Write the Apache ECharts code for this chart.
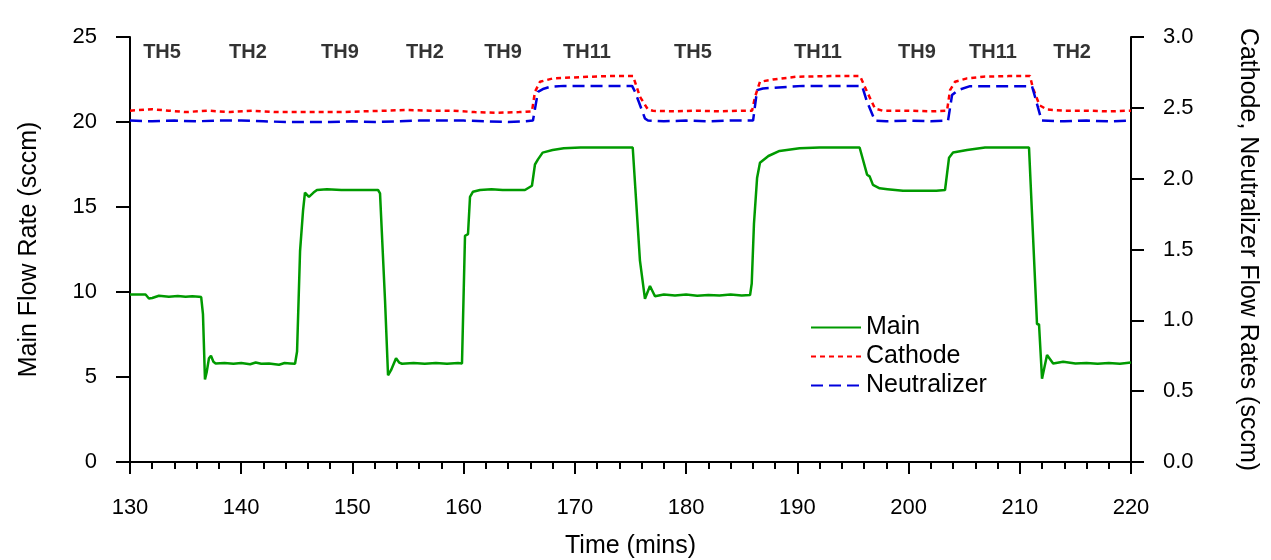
<!DOCTYPE html>
<html>
<head>
<meta charset="utf-8">
<script src="https://cdn.jsdelivr.net/npm/echarts@6/dist/echarts.min.js"></script>
<style>
html, body { margin: 0; padding: 0; background: #fff; }
#chart { width: 1271px; height: 560px; }
</style>
</head>
<body>
<div id="chart"></div>
<script>
// main flow (left axis, sccm)
const mainTime = [130.0, 131.0, 131.4, 131.7, 132.0, 132.6, 133.5, 134.3, 135.0, 135.6, 136.2, 136.4, 136.56, 136.74, 136.9, 137.1, 137.28, 137.5, 137.7, 138.5, 139.3, 140.0, 140.8, 141.3, 141.8, 142.5, 143.4, 143.9, 144.4, 144.84, 145.02, 145.29, 145.56, 145.73, 146.09, 146.5, 146.81, 147.71, 149.0, 150.5, 151.5, 152.3, 152.48, 152.93, 153.2, 153.47, 153.92, 154.2, 154.46, 155.5, 156.5, 157.5, 158.5, 159.5, 159.85, 160.12, 160.39, 160.57, 160.84, 161.47, 162.5, 163.5, 164.5, 165.2, 165.51, 166.14, 166.41, 166.68, 167.1, 168.0, 169.0, 170.5, 172.0, 173.5, 175.2, 175.85, 176.0, 176.3, 176.75, 177.2, 178.0, 179.0, 180.0, 181.0, 182.0, 183.0, 184.0, 185.0, 185.75, 185.9, 186.1, 186.38, 186.64, 187.4, 188.4, 190.2, 192.0, 194.0, 195.6, 196.27, 196.5, 196.8, 197.4, 198.1, 199.5, 201.0, 202.5, 203.28, 203.64, 204.0, 205.26, 206.88, 208.5, 210.0, 210.83, 211.55, 211.73, 212.0, 212.45, 213.0, 213.9, 215.0, 216.0, 217.0, 218.0, 219.0, 220.0];
const mainFlow = [9.85, 9.85, 9.85, 9.62, 9.65, 9.78, 9.72, 9.76, 9.72, 9.75, 9.72, 9.7, 8.7, 4.85, 5.3, 6.1, 6.25, 5.9, 5.8, 5.82, 5.78, 5.82, 5.75, 5.85, 5.78, 5.8, 5.72, 5.82, 5.8, 5.78, 6.5, 12.4, 14.8, 15.85, 15.6, 15.85, 16.0, 16.05, 16.0, 16.0, 16.0, 16.0, 15.8, 9.5, 5.1, 5.4, 6.1, 5.85, 5.78, 5.82, 5.78, 5.82, 5.78, 5.82, 5.8, 13.3, 13.4, 15.6, 15.9, 16.0, 16.05, 16.0, 16.0, 16.0, 16.0, 16.25, 17.5, 17.8, 18.2, 18.35, 18.45, 18.5, 18.5, 18.5, 18.5, 11.85, 11.8, 9.6, 10.35, 9.75, 9.85, 9.8, 9.85, 9.78, 9.82, 9.8, 9.85, 9.8, 9.82, 10.5, 14.0, 16.7, 17.6, 18.0, 18.3, 18.45, 18.5, 18.5, 18.5, 16.9, 16.8, 16.3, 16.1, 16.05, 15.95, 15.95, 15.95, 16.0, 17.9, 18.2, 18.35, 18.5, 18.5, 18.5, 18.5, 8.1, 8.1, 4.9, 6.3, 5.8, 5.9, 5.8, 5.82, 5.78, 5.82, 5.78, 5.85];

// cathode flow (right axis, sccm)
const cathTime = [130, 132, 133.5, 135, 137, 139, 141, 143, 145, 147, 149, 151, 153, 155, 157, 159, 161, 163, 165, 166.14, 166.41, 166.86, 168.03, 171.09, 173, 175.23, 175.85, 176.57, 177.02, 179, 181, 183, 185, 185.93, 186.2, 186.64, 187.81, 189.97, 193, 195.64, 196.27, 196.98, 197.7, 200, 202, 203.46, 203.73, 204.18, 205.26, 206.7, 209, 210.92, 211.19, 211.78, 212.45, 214, 216, 218, 220];
const cathFlow = [2.48, 2.49, 2.48, 2.47, 2.48, 2.47, 2.48, 2.47, 2.47, 2.47, 2.47, 2.475, 2.48, 2.485, 2.48, 2.48, 2.47, 2.465, 2.47, 2.475, 2.613, 2.684, 2.708, 2.719, 2.724, 2.724, 2.578, 2.488, 2.479, 2.475, 2.48, 2.475, 2.48, 2.48, 2.578, 2.684, 2.7, 2.72, 2.724, 2.724, 2.613, 2.495, 2.479, 2.48, 2.475, 2.48, 2.625, 2.684, 2.708, 2.72, 2.724, 2.724, 2.637, 2.518, 2.488, 2.48, 2.48, 2.475, 2.48];

// neutralizer flow (right axis, sccm)
const neutTime = [130, 132, 134, 136, 138, 140, 142, 144, 146, 148, 150, 152, 154, 156, 158, 160, 162, 164, 165.5, 166.23, 166.68, 167.2, 167.76, 169, 175.14, 175.41, 176.3, 176.57, 178, 180, 182, 184, 186.02, 186.38, 186.91, 190.51, 195.82, 196.27, 196.98, 198, 200, 202, 203.55, 203.91, 204.45, 205.53, 211.1, 211.37, 211.96, 214, 216, 218, 220];
const neutFlow = [2.41, 2.405, 2.41, 2.405, 2.41, 2.41, 2.405, 2.4, 2.4, 2.4, 2.405, 2.4, 2.405, 2.41, 2.41, 2.41, 2.405, 2.4, 2.405, 2.41, 2.613, 2.635, 2.648, 2.655, 2.655, 2.613, 2.425, 2.41, 2.405, 2.41, 2.405, 2.41, 2.41, 2.625, 2.637, 2.655, 2.655, 2.542, 2.41, 2.405, 2.41, 2.405, 2.41, 2.59, 2.625, 2.653, 2.653, 2.578, 2.41, 2.405, 2.41, 2.405, 2.41];

// thruster throttle points written over the top of the plot
const phaseNames = ['TH5', 'TH2', 'TH9', 'TH2', 'TH9', 'TH11', 'TH5', 'TH11', 'TH9', 'TH11', 'TH2'];
const phaseMid = [132.88, 140.61, 148.88, 156.52, 163.54, 171.09, 180.62, 191.86, 200.76, 207.59, 214.70];

const xTicks = [130, 220, 10];
const leftTicks = [0, 25, 5];
const rightTicks = [0, 3, 0.5];

const pair = (xs, ys) => xs.map((x, i) => [x, ys[i]]);

const font = 'Liberation Sans, Arial, sans-serif';
const black = '#000';

let chart = echarts.init(document.getElementById('chart'));

let option = {
	animation: false,
	backgroundColor: '#fff',
	grid: { left: 130, right: 140, top: 37, bottom: 98, outerBoundsMode: 'none' },
	legend: {
		data: ['Main', 'Cathode', 'Neutralizer'],
		orient: 'vertical',
		left: 805,
		top: 310,
		itemWidth: 50,
		itemHeight: 14,
		itemGap: 4,
		itemStyle: { opacity: 0 },
		textStyle: { fontFamily: font, fontSize: 25, color: black }
	},
	xAxis: {
		type: 'value',
		min: xTicks[0],
		max: xTicks[1],
		interval: xTicks[2],
		name: 'Time (mins)',
		nameLocation: 'middle',
		nameGap: 72,
		nameTextStyle: { fontFamily: font, fontSize: 25, color: black },
		axisLine: { show: true, onZero: false, lineStyle: { color: black, width: 2 } },
		axisTick: { show: true, length: 12, lineStyle: { color: black, width: 2 } },
		minorTick: { show: true, splitNumber: 5, length: 7, lineStyle: { color: black, width: 2 } },
		axisLabel: { fontFamily: font, fontSize: 22, color: black, margin: 35 },
		splitLine: { show: false }
	},
	yAxis: [{
		type: 'value',
		position: 'left',
		min: leftTicks[0],
		max: leftTicks[1],
		interval: leftTicks[2],
		name: 'Main Flow Rate (sccm)',
		nameLocation: 'middle',
		nameGap: 88,
		nameTextStyle: { fontFamily: font, fontSize: 25, color: black },
		axisLine: { show: true, onZero: false, lineStyle: { color: black, width: 2 } },
		axisTick: { show: true, length: 14, lineStyle: { color: black, width: 2 } },
		axisLabel: { fontFamily: font, fontSize: 22, color: black, margin: 33 },
		splitLine: { show: false }
	}, {
		type: 'value',
		position: 'right',
		min: rightTicks[0],
		max: rightTicks[1],
		interval: rightTicks[2],
		name: 'Cathode, Neutralizer Flow Rates (sccm)',
		nameLocation: 'middle',
		nameRotate: -90,
		nameGap: 104,
		nameTextStyle: { fontFamily: font, fontSize: 25, color: black },
		axisLine: { show: true, onZero: false, lineStyle: { color: black, width: 2 } },
		axisTick: { show: true, length: 13, lineStyle: { color: black, width: 2 } },
		axisLabel: { fontFamily: font, fontSize: 22, color: black, margin: 32, formatter: v => v.toFixed(1) },
		splitLine: { show: false }
	}],
	series: [{
		name: 'Main',
		type: 'line',
		yAxisIndex: 0,
		showSymbol: false,
		symbol: 'none',
		lineStyle: { color: '#009a00', width: 2.5 },
		itemStyle: { color: '#009a00' },
		data: pair(mainTime, mainFlow)
	}, {
		name: 'Cathode',
		type: 'line',
		yAxisIndex: 1,
		showSymbol: false,
		symbol: 'none',
		lineStyle: { color: '#ff0000', width: 2.5, type: [5, 4] },
		itemStyle: { color: '#ff0000' },
		data: pair(cathTime, cathFlow)
	}, {
		name: 'Neutralizer',
		type: 'line',
		yAxisIndex: 1,
		showSymbol: false,
		symbol: 'none',
		lineStyle: { color: '#0000dd', width: 2.5, type: [12, 6] },
		itemStyle: { color: '#0000dd' },
		data: pair(neutTime, neutFlow)
	}, {
		name: 'phases',
		type: 'scatter',
		yAxisIndex: 0,
		silent: true,
		symbolSize: 1,
		itemStyle: { color: 'rgba(0,0,0,0)' },
		label: {
			show: true,
			position: 'inside',
			fontFamily: font,
			fontSize: 20,
			fontWeight: 'bold',
			color: black,
			formatter: p => phaseNames[p.dataIndex]
		},
		data: phaseMid.map(t => [t, 24.1])
	}]
};

chart.setOption(option);
</script>
</body>
</html>
